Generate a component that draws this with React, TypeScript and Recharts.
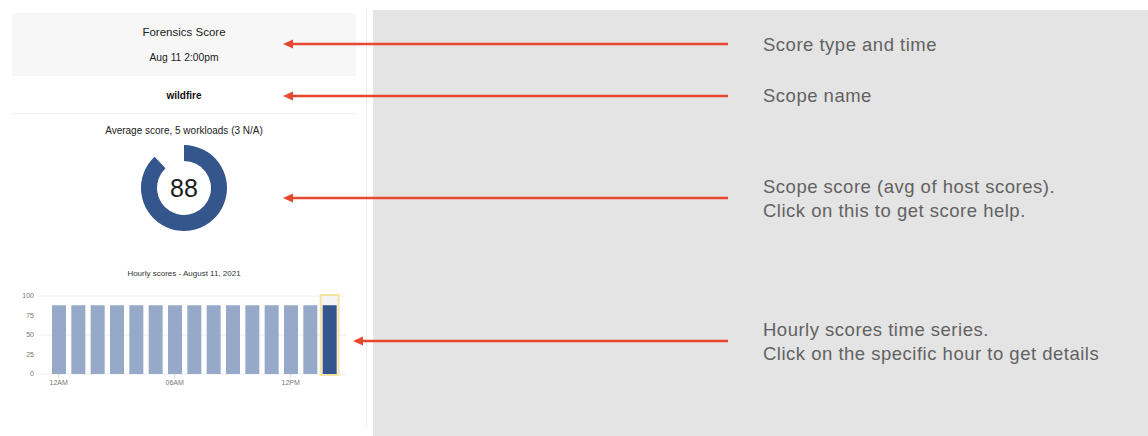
import React from "react"
import { PieChart, Pie, Cell, BarChart, Bar, XAxis, YAxis, CartesianGrid } from "recharts"

const hourLabels = [
    "12AM", "01AM", "02AM", "03AM", "04AM", "05AM", "06AM", "07AM",
    "08AM", "09AM", "10AM", "11AM", "12PM", "01PM", "02PM",
]
const hourlyScores = [88, 88, 88, 88, 88, 88, 88, 88, 88, 88, 88, 88, 88, 88, 88]
const selectedHour = 14
const yTicks = [0, 25, 50, 75, 100]

const scopeScore = 88
const scopeName = "wildfire"
const scoreTitle = "Forensics Score"
const scoreTime = "Aug 11 2:00pm"
const workloadsText = "Average score, 5 workloads (3 N/A)"
const hourlyTitle = "Hourly scores - August 11, 2021"

// annotation texts on the grey side, one entry per arrow
const notes = [
    ["Score type and time"],
    ["Scope name"],
    ["Scope score (avg of host scores).", "Click on this to get score help."],
    ["Hourly scores time series.", "Click on the specific hour to get details"],
]

const FONT = '"Liberation Sans", Arial, Helvetica, sans-serif'
const DARK_BLUE = "#34568c"
const LIGHT_BLUE = "#97a9c8"
const RED = "#e6472e"

const barData = hourLabels.map((hour, i) => ({ hour, score: hourlyScores[i] }))
const donutData = [
    { name: "score", value: scopeScore },
    { name: "rest", value: 100 - scopeScore },
]

// highlight box behind the selected hour
function HourBackground(props: any) {
    const { x, y, width, height, index } = props
    if (index !== selectedHour) return null
    return (
        <rect
            x={x - 2}
            y={y - 1}
            width={width + 4}
            height={height + 2}
            fill="#f4f4f4"
            stroke="#f6e3a2"
            strokeWidth={2}
        />
    )
}

function Arrow({ y, tipX, endX }: { y: number; tipX: number; endX: number }) {
    return (
        <g>
            <line x1={tipX + 8} y1={y} x2={endX} y2={y} stroke={RED} strokeWidth={2.5} />
            <polygon points={`${tipX},${y} ${tipX + 10},${y - 4.5} ${tipX + 10},${y + 4.5}`} fill={RED} />
        </g>
    )
}

export default function App() {
    return (
        <div style={{ position: "absolute", left: 0, top: 0, width: 1148, height: 436, background: "#fff", fontFamily: FONT, overflow: "hidden" }}>
            {/* grey annotation side */}
            <div style={{ position: "absolute", left: 373, top: 10, width: 775, height: 426, background: "#e4e4e4" }} />
            <div style={{ position: "absolute", left: 366, top: 10, width: 1, height: 418, background: "#eeeeee" }} />

            {/* header */}
            <div style={{ position: "absolute", left: 12, top: 13, width: 344, height: 63, background: "#f7f7f7" }} />
            <div style={{ position: "absolute", left: 12, top: 26, width: 344, textAlign: "center", fontSize: 11.5, color: "#222" }}>{scoreTitle}</div>
            <div style={{ position: "absolute", left: 12, top: 52, width: 344, textAlign: "center", fontSize: 10.3, color: "#222" }}>{scoreTime}</div>
            <div style={{ position: "absolute", left: 12, top: 90, width: 344, textAlign: "center", fontSize: 10, fontWeight: "bold", color: "#111" }}>{scopeName}</div>
            <div style={{ position: "absolute", left: 12, top: 113, width: 344, height: 1, background: "#ececec" }} />
            <div style={{ position: "absolute", left: 12, top: 125, width: 344, textAlign: "center", fontSize: 10, color: "#222" }}>{workloadsText}</div>

            {/* donut */}
            <div style={{ position: "absolute", left: 134, top: 138 }}>
                <PieChart width={100} height={100} margin={{ top: 0, right: 0, bottom: 0, left: 0 }}>
                    <Pie
                        data={donutData}
                        dataKey="value"
                        cx="50%"
                        cy="50%"
                        innerRadius={27}
                        outerRadius={43}
                        startAngle={90}
                        endAngle={-270}
                        stroke="none"
                        isAnimationActive={false}
                    >
                        <Cell fill={DARK_BLUE} />
                        <Cell fill="transparent" />
                    </Pie>
                </PieChart>
                <div style={{ position: "absolute", left: 0, top: 35, width: 100, textAlign: "center", fontSize: 25, lineHeight: "30px", color: "#1c1c1c" }}>{scopeScore}</div>
            </div>

            {/* hourly bars */}
            <div style={{ position: "absolute", left: 12, top: 269, width: 344, textAlign: "center", fontSize: 8, color: "#333" }}>{hourlyTitle}</div>
            <div style={{ position: "absolute", left: 0, top: 290 }}>
                <BarChart width={360} height={104} data={barData} margin={{ top: 6, right: 14, bottom: 0, left: 0 }} barSize={14}>
                    <CartesianGrid vertical={false} stroke="#eeeeee" />
                    <XAxis
                        dataKey="hour"
                        interval={5}
                        padding={{ left: 12, right: 7 }}
                        axisLine={false}
                        tickSize={4}
                        tickMargin={2}
                        tickLine={{ stroke: "#d8d8d8" }}
                        tick={{ fontSize: 7, fill: "#777", fontFamily: FONT }}
                        height={20}
                    />
                    <YAxis
                        domain={[0, 100]}
                        ticks={yTicks}
                        width={37}
                        axisLine={false}
                        tickLine={false}
                        tickSize={1}
                        tickMargin={2}
                        tick={{ fontSize: 7, fill: "#777", fontFamily: FONT }}
                    />
                    <Bar dataKey="score" background={<HourBackground />} isAnimationActive={false}>
                        {barData.map((d, i) => (
                            <Cell key={d.hour} fill={i === selectedHour ? DARK_BLUE : LIGHT_BLUE} />
                        ))}
                    </Bar>
                </BarChart>
            </div>

            {/* arrows */}
            <svg width={1148} height={436} style={{ position: "absolute", left: 0, top: 0 }}>
                <Arrow y={44} tipX={283} endX={728} />
                <Arrow y={96} tipX={283} endX={728} />
                <Arrow y={198} tipX={283} endX={728} />
                <Arrow y={341} tipX={353} endX={728} />
            </svg>

            {/* annotation texts */}
            {notes.map((lines, i) => (
                <div
                    key={i}
                    style={{
                        position: "absolute",
                        left: 763,
                        top: [33, 84, 175, 318][i],
                        fontSize: 18.5,
                        letterSpacing: 0.5,
                        lineHeight: "24px",
                        color: "#626262",
                        whiteSpace: "nowrap",
                    }}
                >
                    {lines.map((l) => (
                        <div key={l}>{l}</div>
                    ))}
                </div>
            ))}
        </div>
    )
}
